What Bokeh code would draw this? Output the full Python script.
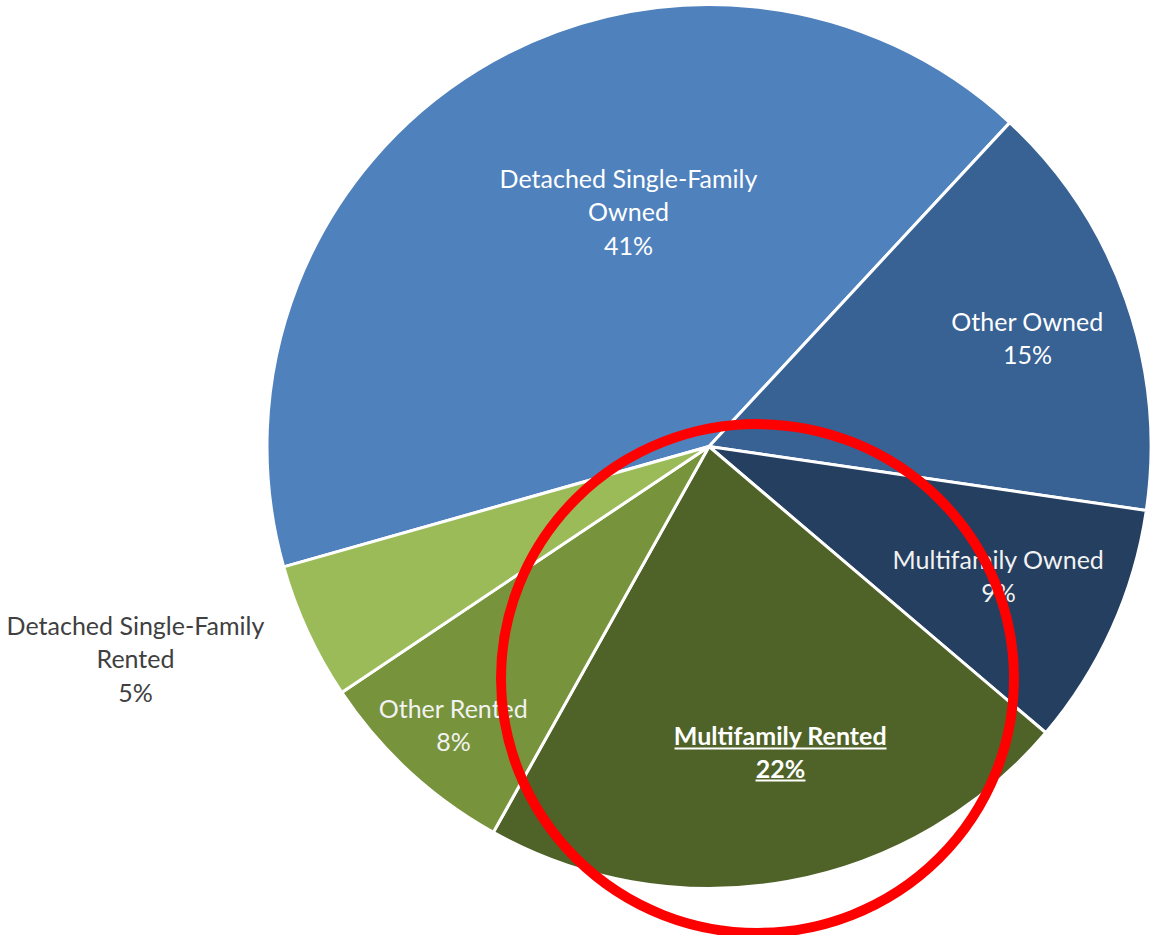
import numpy as np
from bokeh.plotting import figure
from bokeh.models import Range1d, ColumnDataSource
from bokeh.core.properties import value
from bokeh.embed import file_html
from bokeh.resources import INLINE

# ---------------- data ----------------
categories = [
    "Detached Single-Family\nOwned",
    "Other Owned",
    "Multifamily Owned",
    "Multifamily Rented",
    "Other Rented",
    "Detached Single-Family\nRented",
]
shares = [41.3, 15.4, 8.9, 21.9, 7.5, 5.0]
colors = ["#4F81BD", "#386194", "#253F60", "#4F6228", "#77933C", "#9BBB59"]

# ---------------- layout (page pixels) ----------------
PAGE_H = 937
W, H = 1150, 935
CX, CY, R = 708.5, 446.0, 442.0          # pie centre / radius (page px)
FIRST_ANGLE = 254.2                       # first slice start, degrees clockwise from 12 o'clock
LABEL_POS = [(628, 211), (1027, 337), (998, 575), (780, 751), (453, 724), (135, 658)]
LABEL_COLORS = ["white", "white", "#F2F2F2", "white", "#F2F2F2", "#404040"]
LABEL_BOLD = [False, False, False, True, False, False]
FONT = "Lato"
FS = 25
LINE_H = 34 / (FS * 1.236)
HL_CX, HL_CY, HL_W, HL_H = 757.0, 678.0, 513.0, 509.0   # highlight ring


def dy(page_y):
    return PAGE_H - page_y


# slice angles (clockwise from north) -> bokeh math angles
tot = float(sum(shares))
cum = np.concatenate([[0.0], np.cumsum(shares)]) / tot * 360.0
theta_a = FIRST_ANGLE + cum[:-1]
theta_b = FIRST_ANGLE + cum[1:]
start = np.radians(90.0 - theta_b)
end = np.radians(90.0 - theta_a)

src = ColumnDataSource(dict(start=start, end=end, color=colors, cat=categories))

p = figure(width=W, height=H, x_range=Range1d(0, W), y_range=Range1d(PAGE_H - H, PAGE_H),
           output_backend="svg", toolbar_location=None, min_border=0)
p.axis.visible = False
p.grid.visible = False
p.outline_line_color = None
p.background_fill_color = "white"
p.border_fill_color = "white"

p.wedge(x=CX, y=dy(CY), radius=R, start_angle="start", end_angle="end", source=src,
        fill_color="color", line_color="white", line_width=3)

# labels
pct = [f"{int(round(s / tot * 100))}%" for s in shares]
texts = [f"{c}\n{q}" for c, q in zip(categories, pct)]
for (lx, ly), t, col, b in zip(LABEL_POS, texts, LABEL_COLORS, LABEL_BOLD):
    p.text(x=[lx], y=[dy(ly)], text=[t], text_align="center", text_baseline="middle",
           text_font=value(FONT), text_font_size=f"{FS}px", text_color=col,
           text_font_style="bold" if b else "normal", text_line_height=LINE_H)

# underline for highlighted label
mx, my = LABEL_POS[3]
ul_half = [106, 25]
ul_dy = [-3, 29]
p.segment(x0=[mx - h for h in ul_half], x1=[mx + h for h in ul_half],
          y0=[dy(my + d) for d in ul_dy], y1=[dy(my + d) for d in ul_dy],
          line_color="white", line_width=2)

# red highlight ring
p.ellipse(x=HL_CX, y=dy(HL_CY), width=HL_W, height=HL_H, fill_color=None,
          line_color="#FF0000", line_width=10)

open("out.html", "w").write(file_html(p, INLINE))
